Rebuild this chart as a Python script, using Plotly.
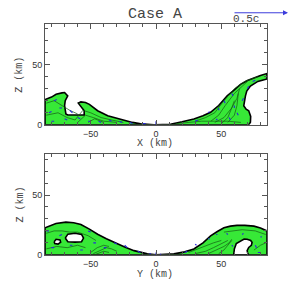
import plotly.graph_objects as go

# ---- data (km) ----
top_x = [-85, -85, -80, -76.5, -72, -70, -67.6, -69.5, -70, -69, -67.6, -61, -55, -55, -57.5, -59.5, -57.5, -54,
         -51, -44.7, -37, -30, -24.4, -18, -11.7, -1.5, 5, 11, 20, 29, 36, 41.8, 48, 54.5, 60, 64.7, 70, 74.8, 80,
         85, 85, 78, 72.3, 69.5, 68.5, 67.2, 69, 71, 72.5, 72.3, 71, -85]
top_z = [0, 21, 23, 25.4, 26.5, 26.8, 24, 20, 16, 9, 8.2, 8.2, 8.2, 11.7, 15.8, 18, 19, 18.5,
         17, 11.7, 7.6, 5.5, 3.5, 2, 0.8, 0, 0.2, 0.5, 2.5, 4.9, 7.5, 10.4, 16, 24, 29, 33.6, 36.8, 39, 41,
         42.6, 38, 36, 32.2, 28, 24, 15.8, 13, 11.7, 7, 2.2, 0, 0]

bot_x = [-85, -85, -76.6, -69, -63, -57.5, -51, -44.7, -38, -32, -24, -16.8, -6.6, 0, 13.7, 22, 29, 36, 41.8,
         47, 52, 57, 62, 68, 75, 80, 85, 85, -85]
bot_z = [0, 22.6, 26.2, 27.3, 26.8, 25.4, 21.5, 17.2, 13.5, 10.3, 6.5, 3.5, 0.8, 0, 0.8, 2.5, 4.9, 10, 15.8,
         19.5, 22.6, 24, 24.6, 24.6, 24, 22.5, 20, 0, 0]

hole1_x = [-69.5, -67.5, -62, -57, -55.5, -57, -62, -67.5, -69.5]
hole1_z = [14, 17.3, 18, 17, 14, 11, 10.6, 11, 14]
hole2_x = [-78, -76.5, -73.5, -73, -75, -77.5, -78]
hole2_z = [11, 13, 12.5, 10.5, 9, 9.5, 11]
hole3_x = [59.5, 60, 61.5, 64.7, 67.5, 69.8, 72.5, 73.6, 73, 71, 69.8, 70.2, 71, 59.5]
hole3_z = [0, 5, 9.5, 11.7, 13.2, 13, 12, 10.3, 8, 6.2, 3.5, 1.5, 0, 0]

# interior contour lines (segments separated by None)
top_cx = [-84, -78, -72, -66, -60, None, -84, -75, -68, -62, None, -62, -56, -50, -42, -34, -25, None,
          -60, -54, -48, -40, -30, None, -52, -47, -40, None,
          30, 38, 45, 52, 60, 68, 78, None, 42, 48, 53, 60, 66, 70, None, 45, 52, 58, 62, 64, None,
          55, 60, 62, 63, None, 15, 25, 35, 45, 55, 65, None, 50, 55, 58, 60]
top_cz = [18, 20, 16, 12, 9, None, 8, 10, 6, 4, None, 4, 12, 10, 6, 4, 2, None,
          2, 8, 6, 3, 2, None, 2, 5, 2, None,
          3, 6, 10, 20, 30, 36, 40, None, 3, 8, 16, 26, 32, 36, None, 2, 6, 14, 22, 30, None,
          2, 8, 16, 26, None, 1, 2, 3, 3, 3, 2, None, 1, 6, 14, 20]

bot_cx = [-84, -78, -72, -66, -60, -52, -46, None, -84, -76, -68, -60, -54, None, -50, -45, -40, -36, None,
          -48, -42, -38, -34, -30, None, -46, -40, -36, None,
          25, 32, 38, 44, 50, None, 30, 38, 44, 50, 55, None, 40, 46, 52, 56, 58, None, 48, 52, 55, 58,
          None, 75, 80, 84, None, 52, 58, 66, 76, 84]
bot_cz = [18, 20, 20, 19, 19, 16, 12, None, 5, 7, 6, 8, 6, None, 2, 6, 8, 7, None,
          1, 4, 6, 5, 3, None, 0.5, 3, 2, None,
          2, 5, 8, 10, 12, None, 1, 3, 6, 9, 12, None, 1, 4, 7, 10, 13, None, 1, 4, 8, 12,
          None, 4, 8, 10, None, 19, 20, 21, 20, 17]

# blue velocity marks (short segments)
top_vx = [-82, -80, None, -78, -76, None, -74, -72, None, -80, -78, None, -70, -68, None, -66, -64, None,
          -60, -58, None, -52, -50, None, -44, -42, None, -36, -34, None, -28, -26, None, -20, -18, None,
          -10, -8, None, 0, 0, None, 30, 32, None, 40, 41, None, 46, 47, None, 52, 53, None, 58, 59, None,
          62, 63, None, 66, 67, None, 70, 71, None, 74, 76, None, 56, 57, None, 48, 48, None, 60, 60]
top_vz = [10, 11, None, 20, 21, None, 14, 14, None, 3, 3, None, 5, 4, None, 12, 10, None,
          6, 5, None, 3, 3, None, 3, 2, None, 4, 3, None, 3, 2, None, 2, 1, None,
          1, 1, None, 0, 3, None, 3, 4, None, 10, 11, None, 4, 5, None, 20, 18, None, 26, 24, None,
          10, 8, None, 20, 22, None, 30, 32, None, 36, 37, None, 6, 4, None, 14, 12, None, 14, 16]

bot_vx = [-84, -82, None, -80, -78, None, -74, -72, None, -66, -64, None, -58, -56, None, -52, -50, None,
          -48, -46, None, -40, -38, None, -32, -30, None, -24, -22, None, -14, -12, None, -5, -4, None,
          0, 0, None, 3, 4, None, 22, 24, None, 30, 31, None, 40, 41, None, 46, 47, None, 54, 55, None,
          58, 59, None, 76, 77, None, 80, 81, None, 66, 67, None, 78, 80]
bot_vz = [20, 20, None, 6, 6, None, 16, 17, None, 8, 8, None, 4, 4, None, 20, 19, None,
          10, 10, None, 6, 6, None, 10, 9, None, 8, 6, None, 3, 2, None, 1, 1, None,
          0, 2, None, 0.5, 0.5, None, 2, 3, None, 9, 8, None, 14, 13, None, 17, 17, None, 18, 17, None,
          8, 7, None, 8, 6, None, 15, 15, None, 17, 18, None, 2, 2]

x_range = [-85, 85]
z_range = [0, 84]
tick_vals = [-50, 0, 50]
z_ticks = [0, 50]
minor_x = [-80, -70, -60, -40, -30, -20, -10, 10, 20, 30, 40, 60, 70, 80]
minor_z = [10, 20, 30, 40, 60, 70, 80]

GREEN = "rgb(55,232,55)"
CONTOUR = "rgb(20,90,20)"
BLUE = "rgb(40,40,220)"
AXC = "#555"

fig = go.Figure()

def panel(xs, zs, cx, cz, vx, vz, xa, ya, holes=()):
    fig.add_trace(go.Scatter(x=xs, y=zs, fill="toself", fillcolor=GREEN, mode="lines",
                             line=dict(color="black", width=1.6), xaxis=xa, yaxis=ya,
                             showlegend=False, hoverinfo="skip"))
    fig.add_trace(go.Scatter(x=cx, y=cz, mode="lines", line=dict(color=CONTOUR, width=0.7),
                             xaxis=xa, yaxis=ya, showlegend=False, hoverinfo="skip"))
    fig.add_trace(go.Scatter(x=vx, y=vz, mode="lines", line=dict(color=BLUE, width=1.1),
                             xaxis=xa, yaxis=ya, showlegend=False, hoverinfo="skip"))
    for hx, hz in holes:
        fig.add_trace(go.Scatter(x=hx, y=hz, fill="toself", fillcolor="white", mode="lines",
                                 line=dict(color="black", width=1.6), xaxis=xa, yaxis=ya,
                                 showlegend=False, hoverinfo="skip"))

panel(top_x, top_z, top_cx, top_cz, top_vx, top_vz, "x", "y")
panel(bot_x, bot_z, bot_cx, bot_cz, bot_vx, bot_vz, "x2", "y2",
      holes=[(hole1_x, hole1_z), (hole2_x, hole2_z), (hole3_x, hole3_z)])

W = H = 291.0
def px(v): return v / W
def py(v): return 1 - v / H

ax_common = dict(showgrid=False, zeroline=False, showline=True, linecolor=AXC, linewidth=1,
                 mirror="ticks", ticks="inside", ticklen=5, tickcolor=AXC,
                 tickfont=dict(family="Liberation Sans", size=9, color="#333"))
minor_common = dict(showgrid=False, zeroline=False, showline=False, ticks="inside", ticklen=3,
                    tickcolor=AXC, showticklabels=False, mirror="ticks")

dom_x = [px(45), px(267)]
dom_top = [py(127), py(24)]
dom_bot = [py(259.3), py(157)]
fig.update_layout(
    width=291, height=291, margin=dict(l=0, r=0, t=0, b=0),
    paper_bgcolor="white", plot_bgcolor="white",
    xaxis=dict(domain=dom_x, range=x_range, tickvals=tick_vals, anchor="y", **ax_common),
    yaxis=dict(domain=dom_top, range=z_range, tickvals=z_ticks, anchor="x", **ax_common),
    xaxis2=dict(domain=dom_x, range=x_range, tickvals=tick_vals, anchor="y2", **ax_common),
    yaxis2=dict(domain=dom_bot, range=z_range, tickvals=z_ticks, anchor="x2", **ax_common),
    xaxis3=dict(overlaying="x", range=x_range, tickvals=minor_x, anchor="y", **minor_common),
    yaxis3=dict(overlaying="y", range=z_range, tickvals=minor_z, anchor="x", **minor_common),
    xaxis4=dict(overlaying="x2", range=x_range, tickvals=minor_x, anchor="y2", **minor_common),
    yaxis4=dict(overlaying="y2", range=z_range, tickvals=minor_z, anchor="x2", **minor_common),
)
# invisible traces to activate the minor-tick overlay axes
for xa, ya in (("x3", "y3"), ("x4", "y4")):
    fig.add_trace(go.Scatter(x=[None], y=[None], xaxis=xa, yaxis=ya, showlegend=False, hoverinfo="skip"))

mono = "Liberation Mono"
ann = [
    dict(text="Case A", x=px(155), y=py(15), size=15),
    dict(text="0.5c", x=px(246), y=py(19), size=11),
    dict(text="X (km)", x=px(155), y=py(145.5), size=10),
    dict(text="Y (km)", x=px(155), y=py(279), size=10),
]
for a in ann:
    fig.add_annotation(text=a["text"], x=a["x"], y=a["y"], xref="paper", yref="paper",
                       showarrow=False, font=dict(family=mono, size=a["size"], color="#444"),
                       xanchor="center", yanchor="middle")
for yc in (py(76), py(208)):
    fig.add_annotation(text="Z (km)", x=px(20), y=yc, xref="paper", yref="paper", showarrow=False,
                       textangle=-90, font=dict(family=mono, size=10, color="#444"),
                       xanchor="center", yanchor="middle")

# velocity scale arrow
fig.add_annotation(x=px(288), y=py(13), ax=-55, ay=0, xref="paper", yref="paper",
                   axref="pixel", ayref="pixel", text="", showarrow=True, arrowhead=2,
                   arrowsize=1, arrowwidth=1, arrowcolor="rgb(60,60,220)")

fig.write_html("out.html", config={"displayModeBar": False},
               post_script="document.body.style.margin='0px';document.body.style.overflow='hidden';")
